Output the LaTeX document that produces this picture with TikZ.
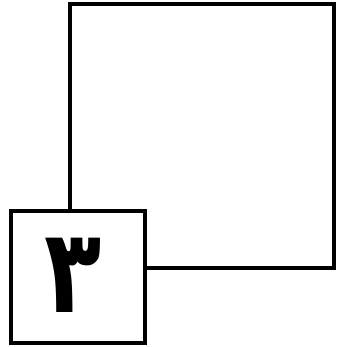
\documentclass[tikz,border=0pt]{standalone}
\usepackage{fontspec}
\usepackage{tikz}
\usetikzlibrary{positioning}
\TeXXeTstate=1
\newfontfamily\arabicfont[Script=Arabic]{DejaVu Sans}

\begin{document}
\begin{tikzpicture}[
  x=0.03cm,y=-0.03cm,
  frame/.style={rectangle,draw=black,line width=3pt,fill=white,inner sep=0pt},
  numeral/.style={font=\arabicfont\bfseries\fontsize{100}{100}\selectfont}
]
\useasboundingbox (0,0) rectangle (347,347);
\node[frame,minimum width=7.92cm,minimum height=7.92cm] (big) at (202,136) {};
\node[frame,minimum width=4.02cm,minimum height=3.96cm] (digit) at (78,277) {};
\node[numeral,xscale=0.8] (three) at ([xshift=-0.15cm,yshift=0.05cm]digit.center) {\beginR ٣\endR};
\end{tikzpicture}
\end{document}
